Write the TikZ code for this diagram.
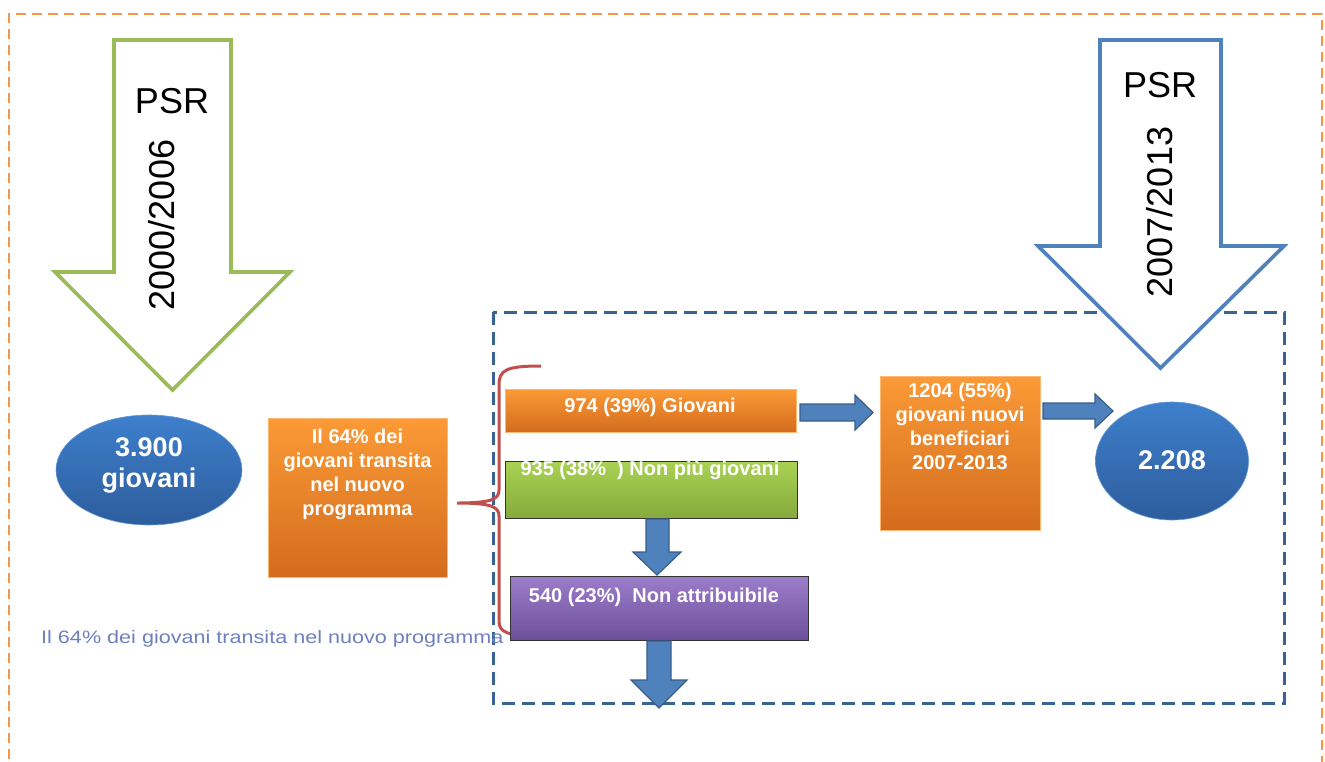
\documentclass[tikz,border=0pt]{standalone}
\usepackage{fontspec}
\setmainfont{Liberation Sans}
\usepackage{graphicx}
\usetikzlibrary{calc,shapes.geometric}
\definecolor{psrgreen}{HTML}{9BBB59}
\definecolor{psrblue}{HTML}{4F81BD}
\definecolor{dashorange}{HTML}{F79646}
\definecolor{dashblue}{HTML}{3A6395}
\definecolor{orTop}{HTML}{FB9A36}
\definecolor{orBot}{HTML}{D36C1E}
\definecolor{grTop}{HTML}{A9D254}
\definecolor{grBot}{HTML}{86AA3C}
\definecolor{puTop}{HTML}{9C7DCB}
\definecolor{puBot}{HTML}{6E4F9A}
\definecolor{elTop}{HTML}{3E7FCC}
\definecolor{elBot}{HTML}{2D5D9C}
\definecolor{braceRed}{HTML}{C0504D}
\definecolor{arrFill}{HTML}{4F81BD}
\definecolor{arrLine}{HTML}{385D8A}
\definecolor{ghost}{RGB}{110,128,190}
\begin{document}
\begin{tikzpicture}[x=1pt,y=-1pt,
  obox/.style={rectangle, top color=orTop, bottom color=orBot, draw=orTop!70!white, line width=0.6, inner sep=0},
  gbox/.style={rectangle, top color=grTop, bottom color=grBot, draw=black!80, line width=1, inner sep=0},
  pbox/.style={rectangle, top color=puTop, bottom color=puBot, draw=black!80, line width=1, inner sep=0},
  blob/.style={ellipse, top color=elTop, bottom color=elBot, draw=elTop!80!white, line width=0.6, inner sep=0},
  btext/.style={text=white, font=\bfseries\fontsize{20}{24}\selectfont, align=center, inner sep=0},
  etext/.style={text=white, font=\bfseries\fontsize{27}{31}\selectfont, align=center, inner sep=0},
  bigtext/.style={text=black, font=\fontsize{36}{40}\selectfont, inner sep=0},
  barrow/.style={fill=arrFill, draw=arrLine, line width=1.2, line join=miter},
  bigarrow/.style={fill=white, line width=3.6, line join=miter},
  bracepath/.style={draw=braceRed, line width=3, line cap=butt},
]
\useasboundingbox (0,0) rectangle (1325,761);

% outer orange dashed frame
\draw[dashorange, line width=2.8, dash pattern=on 10pt off 6pt] (9,775) -- (9,14) -- (1322,14) -- (1322,775);

% blue dashed frame
\draw[dashblue, line width=3, dash pattern=on 13pt off 7pt] (493,312) rectangle (1284,703);

% big arrow left (green)
\draw[bigarrow, draw=psrgreen] (114,40) -- (231,40) -- (231,272) -- (290,272) -- (172.5,390) -- (55,272) -- (114,272) -- cycle;
\node[bigtext] (psrA) at (172,101) {PSR};
\node[bigtext, rotate=90] (yrA) at (162,225) {2000/2006};

% big arrow right (blue)
\draw[bigarrow, draw=psrblue] (1100,40) -- (1221,40) -- (1221,246) -- (1284,246) -- (1160.5,368) -- (1038,246) -- (1100,246) -- cycle;
\node[bigtext] (psrB) at (1160,85) {PSR};
\node[bigtext, rotate=90] (yrB) at (1160,212) {2007/2013};

% left ellipse
\node[blob, minimum width=186, minimum height=110] (e3900) at (149,470) {};
\node[etext] (t3900) at (149,465) {3.900\\giovani};

% orange box left
\node[obox, minimum width=179, minimum height=159] (b64) at (357.5,497.5) {};
\node[btext, anchor=north] (t64) at (357.5,429) {Il 64\% dei\\giovani transita\\nel nuovo\\programma};

% brace
\draw[bracepath] (541,366) .. controls (506,366) and (499,370) .. (499,385) -- (499,490)
  .. controls (499,499) and (492,503) .. (457,503)
  .. controls (492,503) and (499,507) .. (499,516) -- (499,621)
  .. controls (499,632) and (506,636) .. (541,636);

% three boxes
\node[obox, minimum width=291, minimum height=43] (b974) at (650.5,410.5) {};
\node[btext] (t974) at (650,407) {974 (39\%) Giovani};

\node[gbox, minimum width=292, minimum height=57] (b935) at (651,489.5) {};
\node[btext] (t935) at (650,470) {935 (38\%~~) Non più giovani};

\node[pbox, minimum width=298, minimum height=64] (b540) at (659,608) {};
\node[btext] (t540) at (654,597) {540 (23\%)~~Non attribuibile};

% block arrows
\draw[barrow] (646,519) -- (669,519) -- (669,552) -- (681,552) -- (657,575) -- (633,552) -- (646,552) -- cycle;
\draw[barrow] (647,641) -- (671,641) -- (671,680) -- (687,680) -- (659,708) -- (631,680) -- (647,680) -- cycle;
\draw[barrow] (800,404) -- (855,404) -- (855,395) -- (873,412.5) -- (855,430) -- (855,421) -- (800,421) -- cycle;
\draw[barrow] (1043,403) -- (1095,403) -- (1095,394) -- (1113,411) -- (1095,428) -- (1095,419) -- (1043,419) -- cycle;

% box 1204
\node[obox, minimum width=160, minimum height=154] (b1204) at (960,453) {};
\node[btext, anchor=north] (t1204) at (960,383) {1204 (55\%)\\giovani nuovi\\beneficiari\\2007-2013};

% right ellipse
\node[blob, minimum width=153, minimum height=118] (e2208) at (1172,461) {};
\node[etext] (t2208) at (1172,460) {2.208};

% ghost text
\node[anchor=west, text=ghost, font=\fontsize{18}{20}\selectfont, inner sep=0] (ghostline) at (41,639) {\scalebox{1.2}[1]{Il 64\% dei giovani transita nel nuovo programma}};

\end{tikzpicture}
\end{document}
